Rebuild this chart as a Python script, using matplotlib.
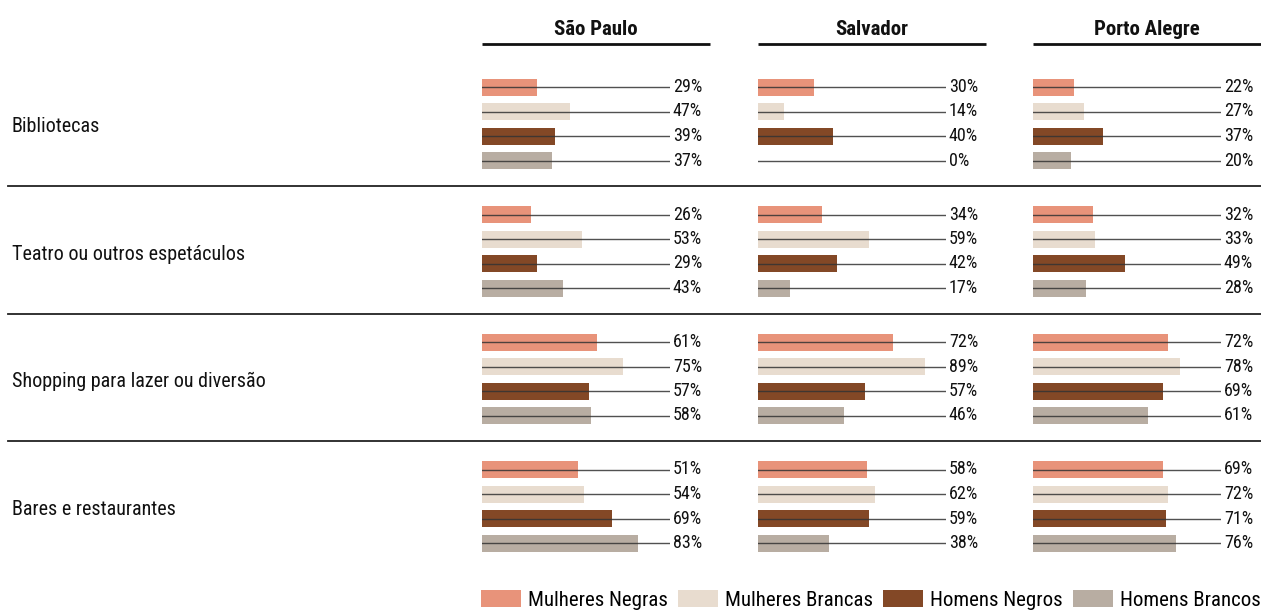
import matplotlib
matplotlib.use("Agg")
import matplotlib.pyplot as plt
from matplotlib import font_manager
from matplotlib.lines import Line2D
from matplotlib.patches import Patch

# pick a narrow face if one is installed
names = {f.name for f in font_manager.fontManager.ttflist}
for fam in ["Roboto Condensed", "Liberation Sans Narrow", "DejaVu Sans Condensed", "DejaVu Sans"]:
    if fam in names:
        FONT = fam
        break
plt.rcParams["font.family"] = [FONT, "DejaVu Sans"]

cities = ["São Paulo", "Salvador", "Porto Alegre"]
activities = ["Bibliotecas", "Teatro ou outros espetáculos",
              "Shopping para lazer ou diversão", "Bares e restaurantes"]
groups = ["Mulheres Negras", "Mulheres Brancas", "Homens Negros", "Homens Brancos"]
colors = ["#E8937A", "#E8DCCF", "#834826", "#B8ADA2"]

# percent per city -> activity -> group
sao_paulo = [[29, 47, 39, 37], [26, 53, 29, 43], [61, 75, 57, 58], [51, 54, 69, 83]]
salvador = [[30, 14, 40, 0], [34, 59, 42, 17], [72, 89, 57, 46], [58, 62, 59, 38]]
porto_alegre = [[22, 27, 37, 20], [32, 33, 49, 28], [72, 78, 69, 61], [69, 72, 71, 76]]
values = [sao_paulo, salvador, porto_alegre]

W, H = 1261, 612
fig = plt.figure(figsize=(W / 100, H / 100), dpi=100)

panel_left = [482, 758, 1033]
span = 188          # pixels for 0..100 %
head_w = 228        # width of the city header rule
row0, row_step, group_step = 87, 24.5, 127.5
bar_h = 17

for c, city in enumerate(cities):
    ax = fig.add_axes([panel_left[c] / W, 0, span / W, 1])
    ax.set_xlim(0, 100)
    ax.set_ylim(H, 0)
    ax.axis("off")
    for a in range(len(activities)):
        for g in range(len(groups)):
            y = row0 + a * group_step + g * row_step
            v = values[c][a][g]
            ax.barh(y, v, height=bar_h, color=colors[g], left=0)
            ax.plot([0, 100], [y, y], color="#333333", lw=1.0, alpha=0.85)
            ax.text(101.5, y, f"{v}%", va="center", ha="left", fontsize=13,
                    color="#111111", clip_on=False)
    # header and its rule
    ax.text(head_w / 2 / span * 100, 29.5, city, ha="center", va="center", fontsize=15,
            fontweight="bold", color="#111111", clip_on=False)
    ax.plot([0, head_w / span * 100], [44, 44], color="#111111", lw=2.0, clip_on=False,
            solid_capstyle="butt")

# activity labels
for a, name in enumerate(activities):
    yc = row0 + a * group_step + 1.5 * row_step + 3
    fig.text(12 / W, 1 - yc / H, name, ha="left", va="center", fontsize=14.5,
             color="#111111")

# separators between activities
for a in range(1, len(activities)):
    yy = 1 - (row0 + a * group_step - 28.5) / H
    fig.add_artist(Line2D([8 / W, 1], [yy, yy], color="#222222", lw=1.3))

# legend along the bottom
handles = [Patch(facecolor=col, edgecolor="none") for col in colors]
fig.legend(handles, groups, loc="center right", bbox_to_anchor=(1.0, 1 - 600 / H),
           ncol=4, frameon=False, fontsize=15, handlelength=1.9, handleheight=0.85,
           handletextpad=0.35, columnspacing=0.5, borderaxespad=0, borderpad=0)

fig.savefig("out.png", dpi=100)
